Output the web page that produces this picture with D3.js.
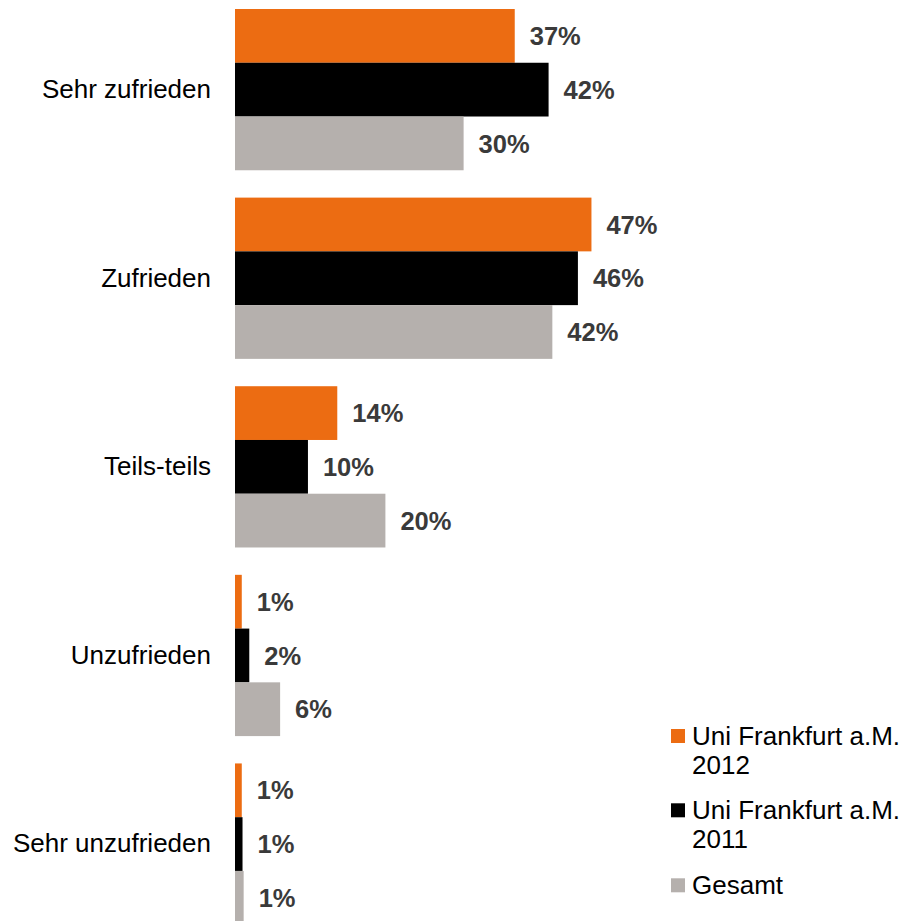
<!DOCTYPE html>
<html>
<head>
<meta charset="utf-8">
<script src="https://cdn.jsdelivr.net/npm/d3@7"></script>
<style>
  html, body { margin: 0; padding: 0; background: #ffffff; }
  svg { display: block; }
  text { font-family: "Liberation Sans", Arial, Helvetica, sans-serif; }
</style>
</head>
<body>
<svg id="chart" width="906" height="921"></svg>
<script>
const categories = ["Sehr zufrieden", "Zufrieden", "Teils-teils", "Unzufrieden", "Sehr unzufrieden"];
const seriesNames = ["Uni Frankfurt a.M. 2012", "Uni Frankfurt a.M. 2011", "Gesamt"];
const legendLines = [["Uni Frankfurt a.M.", "2012"], ["Uni Frankfurt a.M.", "2011"], ["Gesamt"]];
const values2012 = [37.2, 47.4, 13.6, 0.9, 0.9];
const values2011 = [41.7, 45.6, 9.7, 1.9, 1.0];
const valuesGesamt = [30.4, 42.2, 20.0, 6.0, 1.15];
const seriesColors = ["#EC6C12", "#000000", "#B5B0AD"];

const seriesValues = [values2012, values2011, valuesGesamt];

const svg = d3.select("#chart");

const x = d3.scaleLinear().domain([0, 100]).range([235, 987]);
const y = d3.scaleBand().domain(categories).range([9, 924.7]).paddingInner(0.145).paddingOuter(0);
const ySub = d3.scaleBand().domain(seriesNames).range([0, y.bandwidth()]);

const rows = [];
categories.forEach((c, ci) => {
  seriesNames.forEach((s, si) => {
    rows.push({ cat: c, series: s, si: si, value: seriesValues[si][ci] });
  });
});

const fmt = v => d3.format(".0f")(v) + "%";

const g = svg.append("g");

g.selectAll("rect.bar")
  .data(rows)
  .join("rect")
  .attr("class", "bar")
  .attr("x", x(0))
  .attr("y", d => y(d.cat) + ySub(d.series))
  .attr("width", d => x(d.value) - x(0))
  .attr("height", ySub.bandwidth())
  .attr("fill", d => seriesColors[d.si]);

g.selectAll("text.val")
  .data(rows)
  .join("text")
  .attr("class", "val")
  .attr("x", d => x(d.value) + 15)
  .attr("y", d => y(d.cat) + ySub(d.series) + ySub.bandwidth() / 2)
  .attr("dy", "0.36em")
  .attr("font-size", "25.5px")
  .attr("font-weight", "bold")
  .attr("fill", "#3a3a3a")
  .text(d => fmt(d.value));

// Category axis labels
const yAxis = d3.axisLeft(y).tickSize(0).tickPadding(24);
const ax = svg.append("g").attr("transform", `translate(${x(0)},0)`).call(yAxis);
ax.select(".domain").remove();
ax.selectAll("text")
  .attr("font-family", "'Liberation Sans', Arial, Helvetica, sans-serif")
  .attr("font-size", "26px")
  .attr("fill", "#000");

// Legend
const legendTop = [729, 803.3, 878.3];
const leg = svg.append("g");
legendLines.forEach((lines, i) => {
  leg.append("rect")
    .attr("x", 671).attr("y", legendTop[i])
    .attr("width", 14).attr("height", 14)
    .attr("fill", seriesColors[i]);
  const t = leg.append("text")
    .attr("x", 692).attr("y", legendTop[i] + 16)
    .attr("font-size", "26px").attr("fill", "#000");
  lines.forEach((ln, li) => {
    t.append("tspan").attr("x", 692).attr("dy", li === 0 ? 0 : 29).text(ln);
  });
});
</script>
</body>
</html>
